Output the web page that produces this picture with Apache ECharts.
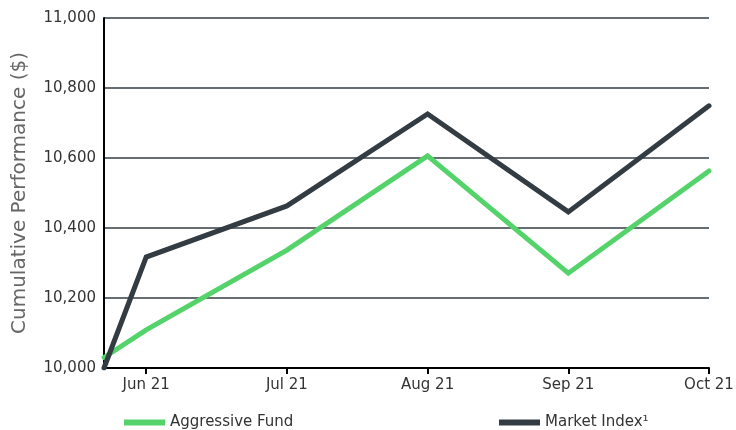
<!DOCTYPE html>
<html>
<head>
<meta charset="utf-8">
<script src="https://cdn.jsdelivr.net/npm/echarts@6/dist/echarts.min.js"></script>
<style>html,body{margin:0;padding:0;background:#fff}#c{width:736px;height:430px}</style>
</head>
<body>
<div id="c"></div>
<script>
// Month labels and their positions on the x scale (months since Jun 21)
const monthLabels = ['Jun 21', 'Jul 21', 'Aug 21', 'Sep 21', 'Oct 21'];
const monthPos = [0, 1, 2, 3, 4];
// x positions of the data points (first point is the inception, before Jun 21)
const pointPos = [-0.3, 0, 1, 2, 3, 4];
const fundValues = [10030, 10109, 10337, 10606, 10271, 10563];
const indexValues = [10000, 10317, 10463, 10726, 10446, 10749];
const yTicks = [10000, 10200, 10400, 10600, 10800, 11000];

const font = 'DejaVu Sans';
const chart = echarts.init(document.getElementById('c'), null, {renderer: 'canvas'});
const pair = (xs, ys) => xs.map((x, i) => [x, ys[i]]);
chart.setOption({
  animation: false,
  grid: {left: 104, right: 27, top: 18, bottom: 62, containLabel: false, outerBoundsMode: 'none'},
  legend: [
    {left: 119, top: 410, itemWidth: 41, itemHeight: 6, itemGap: 0, icon: 'rect',
     textStyle: {fontFamily: font, fontSize: 15, color: '#333'}, data: ['Aggressive Fund']},
    {left: 494, top: 410, itemWidth: 41, itemHeight: 6, itemGap: 0, icon: 'rect',
     textStyle: {fontFamily: font, fontSize: 15, color: '#333'}, data: ['Market Index¹']}
  ],
  xAxis: {
    type: 'value', min: pointPos[0], max: monthPos[monthPos.length - 1],
    axisLine: {show: true, onZero: false, lineStyle: {color: '#000', width: 2}},
    splitLine: {show: false},
    axisTick: {show: true, customValues: monthPos, length: 6, lineStyle: {color: '#000', width: 2}},
    axisLabel: {customValues: monthPos, formatter: v => monthLabels[monthPos.indexOf(v)] || '',
      fontFamily: font, fontSize: 15, color: '#333', margin: 10}
  },
  yAxis: {
    type: 'value', min: yTicks[0], max: yTicks[yTicks.length - 1], interval: 200,
    name: 'Cumulative Performance ($)', nameLocation: 'middle', nameGap: 74,
    nameTextStyle: {fontFamily: font, fontSize: 20, color: '#666'},
    axisLine: {show: true, onZero: false, lineStyle: {color: '#000', width: 2}},
    axisTick: {show: false},
    splitLine: {show: true, lineStyle: {color: '#333d44', width: 1.5}},
    axisLabel: {fontFamily: font, fontSize: 15, color: '#333', margin: 8,
      formatter: v => v.toLocaleString('en-US')}
  },
  series: [
    {name: 'Aggressive Fund', type: 'line', data: pair(pointPos, fundValues), showSymbol: false,
     color: '#55d36b', lineStyle: {width: 5, color: '#55d36b', cap: 'round', join: 'miter'}, z: 3},
    {name: 'Market Index¹', type: 'line', data: pair(pointPos, indexValues), showSymbol: false,
     color: '#323c42', lineStyle: {width: 5, color: '#323c42', cap: 'round', join: 'miter'}, z: 4}
  ]
});
</script>
</body>
</html>
